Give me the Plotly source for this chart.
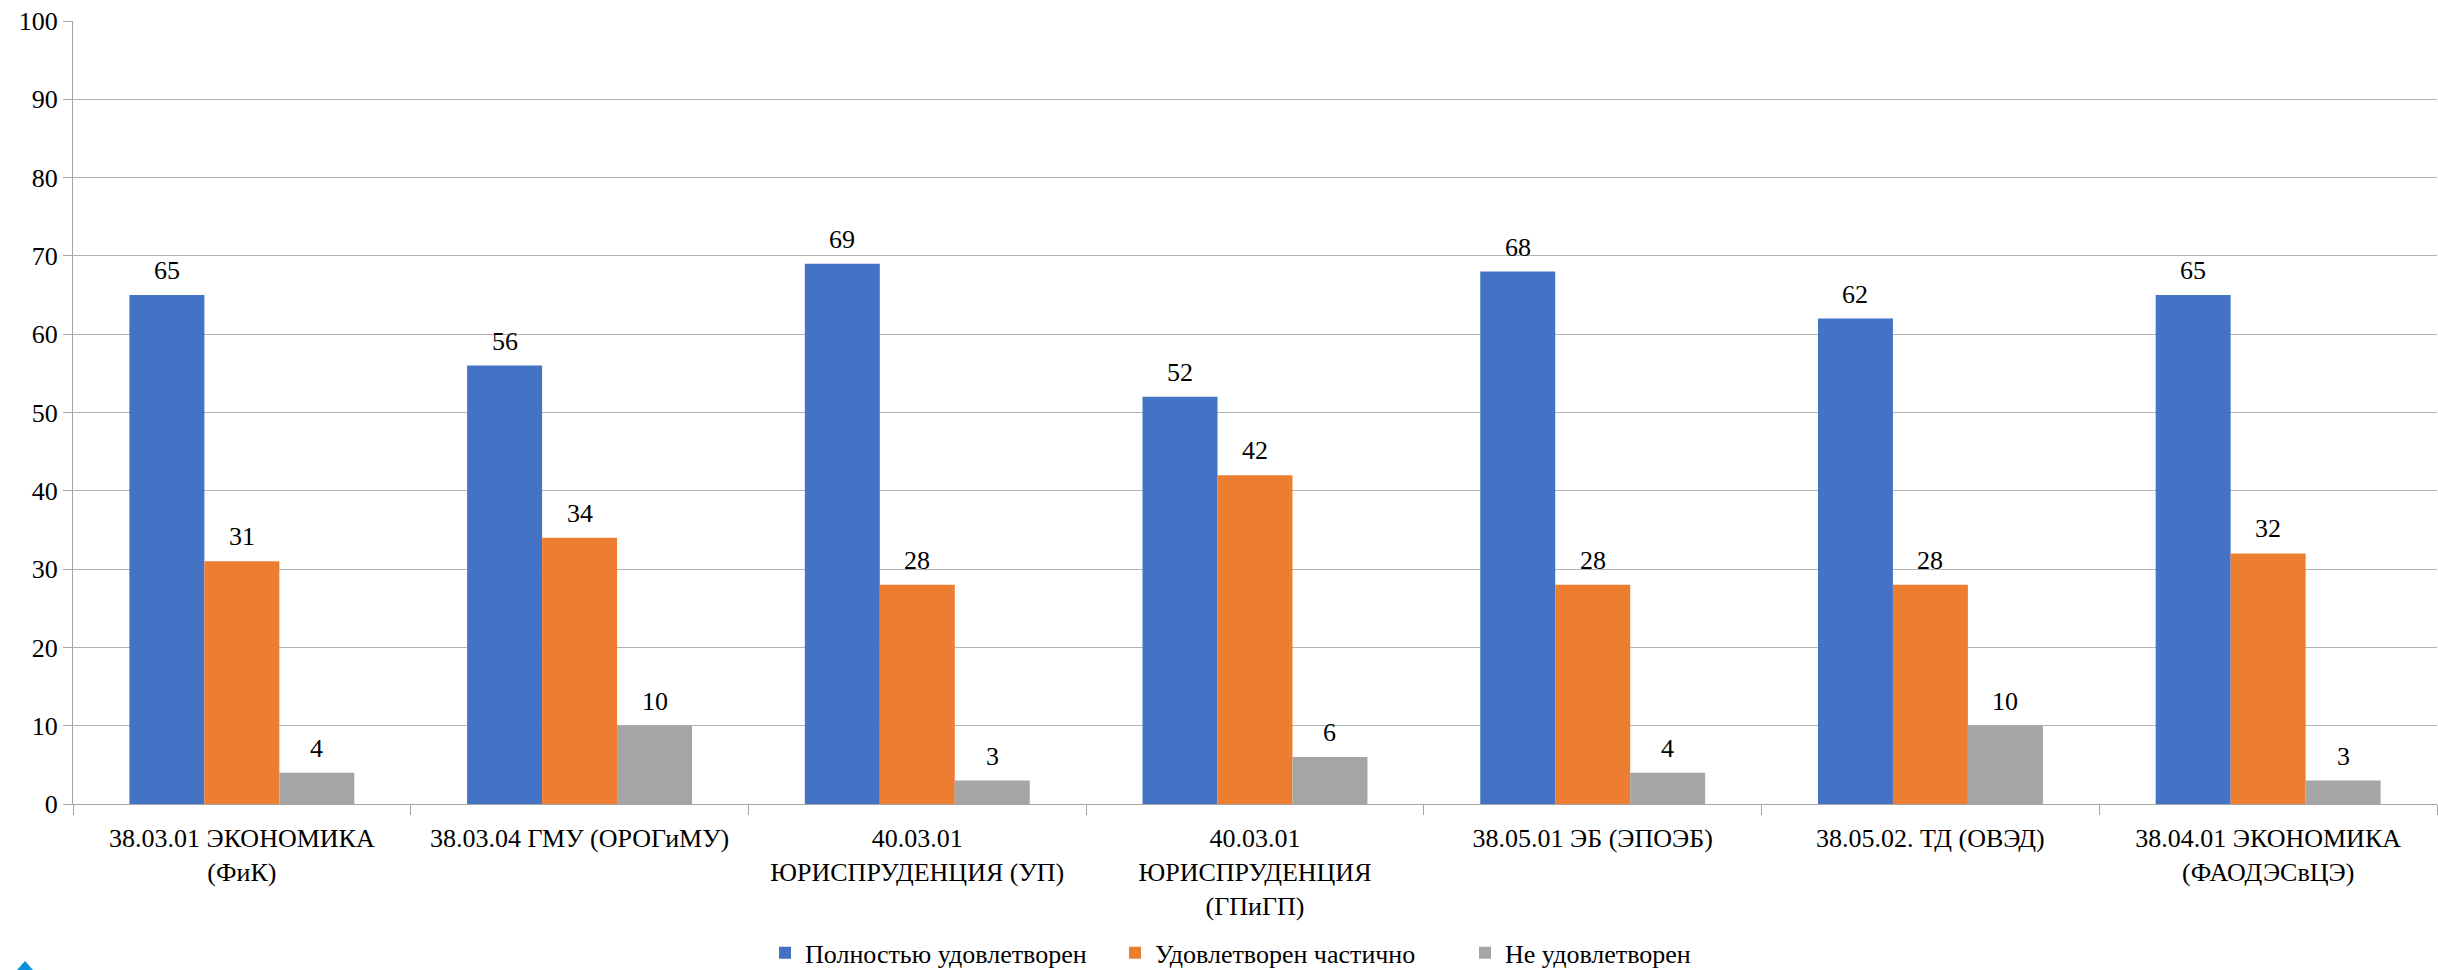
import plotly.graph_objects as go

categories = [
    "38.03.01 ЭКОНОМИКА<br>(ФиК)",
    "38.03.04 ГМУ (ОРОГиМУ)",
    "40.03.01<br>ЮРИСПРУДЕНЦИЯ (УП)",
    "40.03.01<br>ЮРИСПРУДЕНЦИЯ<br>(ГПиГП)",
    "38.05.01 ЭБ (ЭПОЭБ)",
    "38.05.02. ТД (ОВЭД)",
    "38.04.01 ЭКОНОМИКА<br>(ФАОДЭСвЦЭ)",
]
series_names = ["Полностью удовлетворен", "Удовлетворен частично", "Не удовлетворен"]
full = [65, 56, 69, 52, 68, 62, 65]
partial = [31, 34, 28, 42, 28, 28, 32]
not_sat = [4, 10, 3, 6, 4, 10, 3]
colors = ["#4472C4", "#ED7D31", "#A5A5A5"]
y_ticks = [0, 10, 20, 30, 40, 50, 60, 70, 80, 90, 100]

FONT = "Liberation Serif, Liberation Sans, sans-serif"
W, H = 2438, 970
L, R, T, B = 73, 1, 21, 166
PW, PH = W - L - R, H - T - B


def px_to_paper(x, y):
    return (x - L) / PW, (H - B - y) / PH


fig = go.Figure()
all_series = [full, partial, not_sat]
for name, vals, col in zip(series_names, all_series, colors):
    fig.add_trace(go.Bar(x=categories, y=vals, name=name, marker_color=col,
                         marker_line_width=0))

cat_w = PW / len(categories)
bargap = 0.334
bar_w = cat_w * (1 - bargap) / 3
annotations = []
for i, vals in enumerate(all_series):
    shift = (i - 1) * bar_w
    for c, v in zip(categories, vals):
        annotations.append(dict(x=c, y=v, text=str(v), showarrow=False,
                                xshift=shift, yshift=8, yanchor="bottom",
                                font=dict(family=FONT, size=26, color="black")))

# small decorative diamond at the bottom-left corner
pts = [px_to_paper(x, y) for x, y in [(17, 970), (25, 961), (33, 970), (25, 979)]]
path = "M " + " L ".join(f"{a:.5f},{b:.5f}" for a, b in pts) + " Z"
shapes = [dict(type="path", xref="paper", yref="paper", path=path,
               fillcolor="#0A8FD8", line=dict(width=0))]

leg_x, _ = px_to_paper(765, 0)

fig.update_layout(
    width=W, height=H,
    margin=dict(l=L, r=R, t=T, b=B, autoexpand=False),
    paper_bgcolor="white", plot_bgcolor="white",
    barmode="group", bargap=bargap, bargroupgap=0,
    font=dict(family=FONT, size=26, color="black"),
    legend=dict(orientation="h", x=leg_x, xanchor="left", y=-0.19, yanchor="middle",
                font=dict(family=FONT, size=26, color="black"),
                itemwidth=30, tracegroupgap=0, entrywidth=305, entrywidthmode="pixels"),
    annotations=annotations,
    shapes=shapes,
    showlegend=True,
)
fig.update_yaxes(range=[0, 100], tickvals=y_ticks, showgrid=True, gridcolor="#b3b3b3",
                 gridwidth=1.3, showline=True, linecolor="#a6a6a6", linewidth=1.3,
                 ticks="outside", ticklen=9, tickcolor="#a6a6a6", zeroline=False,
                 automargin=False,
                 tickfont=dict(family=FONT, size=26, color="black"))
fig.update_xaxes(showline=True, linecolor="#a6a6a6", linewidth=1.3,
                 ticks="outside", ticklen=10, tickcolor="#a6a6a6", tickson="boundaries",
                 automargin=False, ticklabelstandoff=11,
                 tickfont=dict(family=FONT, size=26, color="black"), tickangle=0)

fig.write_html("out.html", config={"displayModeBar": False},
               post_script="document.body.style.margin='0';")
